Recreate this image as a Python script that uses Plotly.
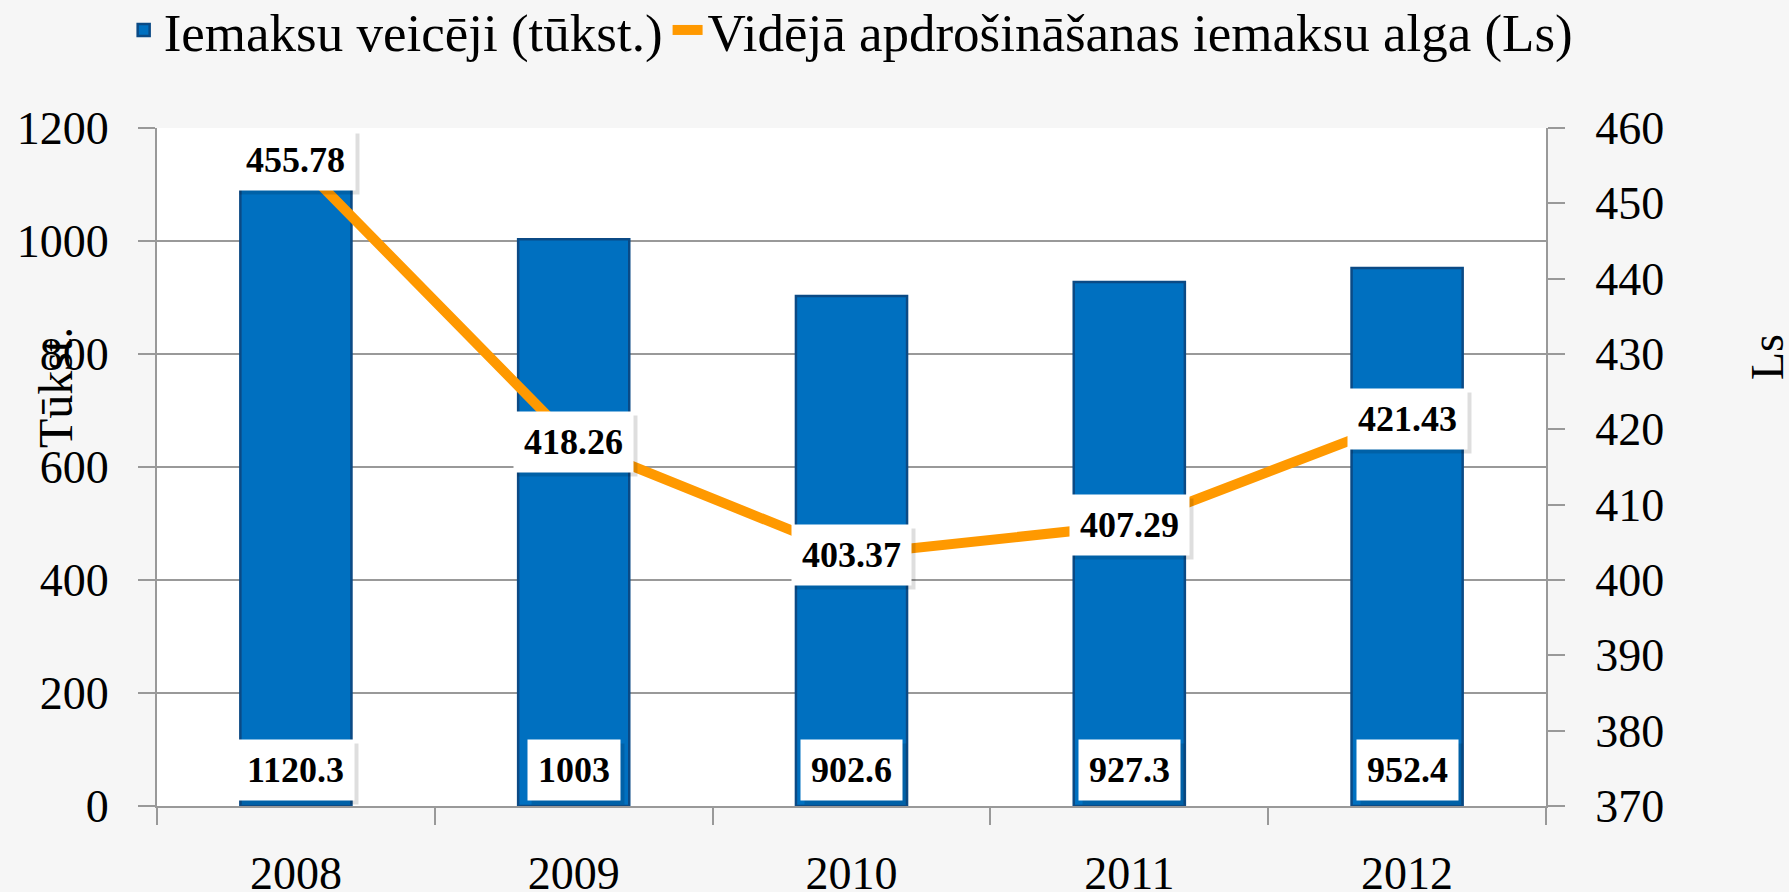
import plotly.graph_objects as go

years = ["2008", "2009", "2010", "2011", "2012"]
contributors = [1120.3, 1003, 902.6, 927.3, 952.4]
contributor_labels = ["1120.3", "1003", "902.6", "927.3", "952.4"]
avg_wage = [455.78, 418.26, 403.37, 407.29, 421.43]
wage_labels = ["455.78", "418.26", "403.37", "407.29", "421.43"]

FONT = "Palatino Linotype, Book Antiqua, Palatino, Liberation Serif, serif"

fig = go.Figure()
fig.add_trace(go.Bar(
    x=years, y=contributors, name="Iemaksu veicēji (tūkst.)",
    marker=dict(color="#0070C0", line=dict(color="#0b4a85", width=2.5)),
    width=0.4, yaxis="y",
))
fig.add_trace(go.Scatter(
    x=years, y=avg_wage, name="Vidējā apdrošināšanas iemaksu alga (Ls)",
    mode="lines", line=dict(color="#FF9900", width=10), yaxis="y2",
))

annotations = []
def label(xi, y, yref, text, yanchor, yshift):
    # soft shadow
    annotations.append(dict(
        x=xi, y=y, xref="x", yref=yref, text="<b>" + text + "</b>", showarrow=False,
        font=dict(family=FONT, size=36, color="rgba(0,0,0,0)"),
        bgcolor="rgba(0,0,0,0.13)", borderpad=10, yanchor=yanchor,
        xshift=4, yshift=yshift - 4,
    ))
    annotations.append(dict(
        x=xi, y=y, xref="x", yref=yref, text="<b>" + text + "</b>", showarrow=False,
        font=dict(family=FONT, size=36, color="black"),
        bgcolor="white", borderpad=10, yanchor=yanchor, yshift=yshift,
    ))

for i, t in enumerate(contributor_labels):
    label(i, 0, "y", t, "bottom", 5)
for i, (v, t) in enumerate(zip(avg_wage, wage_labels)):
    label(i, v, "y2", t, "middle", 0)

annotations.append(dict(
    x=-0.0734, y=0.6165, xref="paper", yref="paper", text="Tūkst.",
    xanchor="center", yanchor="middle",
    showarrow=False, textangle=-90, font=dict(family=FONT, size=48, color="black"),
))
annotations.append(dict(
    x=1.159, y=0.662, xref="paper", yref="paper", text="Ls",
    xanchor="center", yanchor="middle",
    showarrow=False, textangle=-90, font=dict(family=FONT, size=46, color="black"),
))

axis_col = "#999999"
fig.update_layout(
    width=1789, height=892,
    margin=dict(l=157, r=243, t=128, b=86, autoexpand=False),
    paper_bgcolor="#f6f6f6", plot_bgcolor="white",
    font=dict(family=FONT, color="black"),
    showlegend=True,
    legend=dict(orientation="h", x=-0.024, xanchor="left", y=1.205, yanchor="top",
                font=dict(family=FONT, size=53), bgcolor="rgba(0,0,0,0)",
                itemwidth=30, tracegroupgap=0),
    xaxis=dict(type="category", showgrid=False, showline=True, linecolor=axis_col, linewidth=2,
               ticks="outside", tickson="boundaries", ticklen=17, tickcolor=axis_col, tickwidth=2,
               tickfont=dict(family=FONT, size=46), ticklabelstandoff=26, range=[-0.5, 4.5],
               automargin=False),
    yaxis=dict(range=[0, 1200], dtick=200, showgrid=True, gridcolor=axis_col, gridwidth=2,
               showline=True, linecolor=axis_col, linewidth=2, zeroline=False,
               ticks="outside", ticklen=17, tickcolor=axis_col, tickwidth=2,
               tickfont=dict(family=FONT, size=46), ticklabelstandoff=20, automargin=False),
    yaxis2=dict(range=[370, 460], dtick=10, overlaying="y", side="right", showgrid=False,
                showline=True, linecolor=axis_col, linewidth=2, zeroline=False,
                ticks="outside", ticklen=17, tickcolor=axis_col, tickwidth=2,
                tickfont=dict(family=FONT, size=46), ticklabelstandoff=21, automargin=False),
    annotations=annotations,
)

fig.write_html("out.html", config={"displayModeBar": False},
               post_script="document.body.style.margin='0';document.body.style.overflow='hidden';")
